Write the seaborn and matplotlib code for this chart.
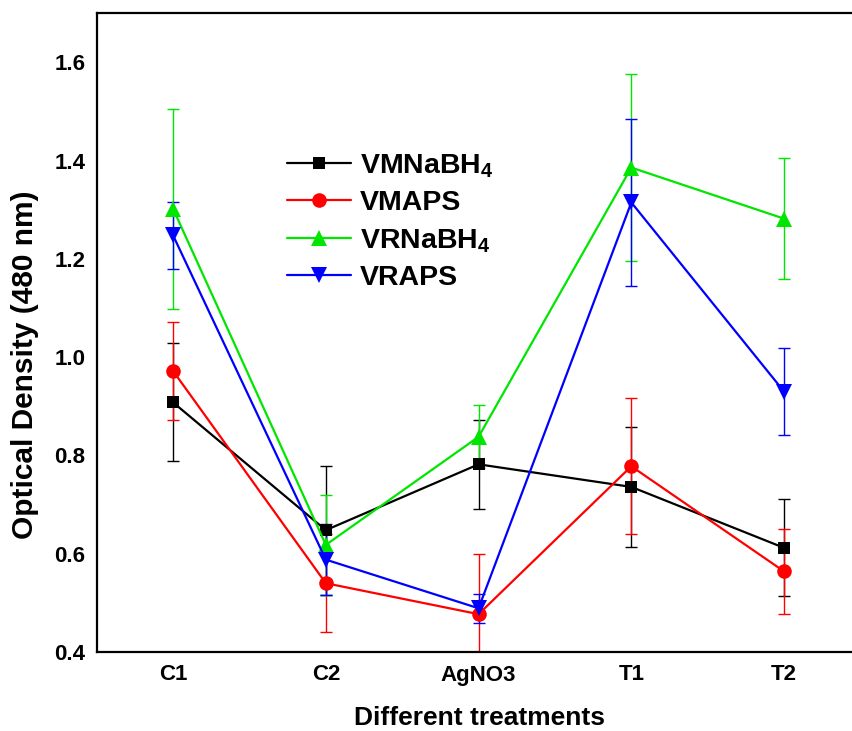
import numpy as np
import pandas as pd
import matplotlib
matplotlib.use("Agg")
import matplotlib.pyplot as plt
import seaborn as sns

# ---- data ----
treatments = ["C1", "C2", "AgNO3", "T1", "T2"]
series_names = ["VMNaBH$_4$", "VMAPS", "VRNaBH$_4$", "VRAPS"]
vm_nabh4 = [0.908, 0.648, 0.782, 0.736, 0.612]
vm_nabh4_err = [0.120, 0.131, 0.090, 0.122, 0.099]
vm_aps = [0.972, 0.540, 0.477, 0.778, 0.564]
vm_aps_err = [0.100, 0.100, 0.122, 0.138, 0.087]
vr_nabh4 = [1.302, 0.618, 0.838, 1.386, 1.282]
vr_nabh4_err = [0.204, 0.101, 0.064, 0.190, 0.123]
vr_aps = [1.248, 0.588, 0.489, 1.315, 0.930]
vr_aps_err = [0.068, 0.072, 0.030, 0.170, 0.088]

values = [vm_nabh4, vm_aps, vr_nabh4, vr_aps]
errors = [vm_nabh4_err, vm_aps_err, vr_nabh4_err, vr_aps_err]
colors = ["#000000", "#ff0000", "#00e600", "#0000ff"]
markers = ["s", "o", "^", "v"]
msize_by_marker = {"s": 9, "o": 10.5, "^": 11, "v": 11}

rows = []
for name, vals in zip(series_names, values):
    for i, v in enumerate(vals):
        rows.append({"pos": i, "value": v, "series": name})
df = pd.DataFrame(rows)

sns.set_theme(style="white")
plt.rcParams["font.family"] = ["Liberation Sans", "DejaVu Sans"]
plt.rcParams["font.weight"] = "bold"
plt.rcParams["text.color"] = "black"
plt.rcParams["mathtext.fontset"] = "custom"
plt.rcParams["mathtext.bf"] = "Liberation Sans:bold"
plt.rcParams["mathtext.rm"] = "Liberation Sans:bold"
plt.rcParams["mathtext.default"] = "bf"

fig = plt.figure(figsize=(8.52, 7.31), dpi=100)
ax = fig.add_axes([96.7 / 852, 79 / 731, 763.75 / 852, 638.7 / 731])

for name, vals, errs, c in zip(series_names, values, errors, colors):
    ax.errorbar(range(len(vals)), vals, yerr=errs, fmt="none", ecolor=c,
                elinewidth=1.0, capsize=4.3, capthick=1.0, zorder=2)

sns.lineplot(data=df, x="pos", y="value", hue="series", style="series",
             hue_order=series_names, style_order=series_names,
             palette=colors, markers=markers, dashes=False,
             linewidth=1.6, markeredgewidth=0, ax=ax, zorder=3)
for line in ax.lines:
    m = line.get_marker()
    if isinstance(m, str) and m in msize_by_marker:
        line.set_markersize(msize_by_marker[m])

ax.set_xlim(-0.5, 4.5)
ax.set_ylim(0.4, 1.7)
ax.set_xticks(range(len(treatments)))
ax.set_xticklabels(treatments)
ax.set_yticks([0.4, 0.6, 0.8, 1.0, 1.2, 1.4, 1.6])
ax.set_yticklabels(["0.4", "0.6", "0.8", "1.0", "1.2", "1.4", "1.6"])
ax.tick_params(axis="both", direction="in", length=9.5, width=1.5,
               labelsize=16, pad=8, color="black", labelcolor="black")
ax.tick_params(axis="x", pad=9)
for lab in ax.get_xticklabels() + ax.get_yticklabels():
    lab.set_fontweight("bold")

for side in ["left", "bottom", "top"]:
    ax.spines[side].set_visible(True)
    ax.spines[side].set_color("black")
    ax.spines[side].set_linewidth(1.6)
ax.spines["right"].set_visible(False)

ax.set_xlabel("")
ax.set_ylabel("")
fig.text(480 / 852, 1 - 718 / 731, "Different treatments", ha="center", va="center",
         fontsize=19, fontweight="bold", color="black")
fig.text(25 / 852, 1 - 365 / 731, "Optical Density (480 nm)", ha="center", va="center",
         rotation=90, fontsize=21.5, fontweight="bold", color="black")

handles, labels = ax.get_legend_handles_labels()
for h in handles:
    m = h.get_marker()
    if isinstance(m, str) and m in msize_by_marker:
        h.set_markersize(msize_by_marker[m])
leg = ax.legend(handles, labels, loc="upper left",
                bbox_to_anchor=(287 / 852, 1 - 152 / 731), bbox_transform=fig.transFigure,
                frameon=False, fontsize=20.5, handlelength=2.25, handletextpad=0.3,
                labelspacing=0.38, borderaxespad=0, borderpad=0)
for t in leg.get_texts():
    t.set_fontweight("bold")
    t.set_color("black")

fig.savefig("out.png", dpi=100, facecolor="white")
